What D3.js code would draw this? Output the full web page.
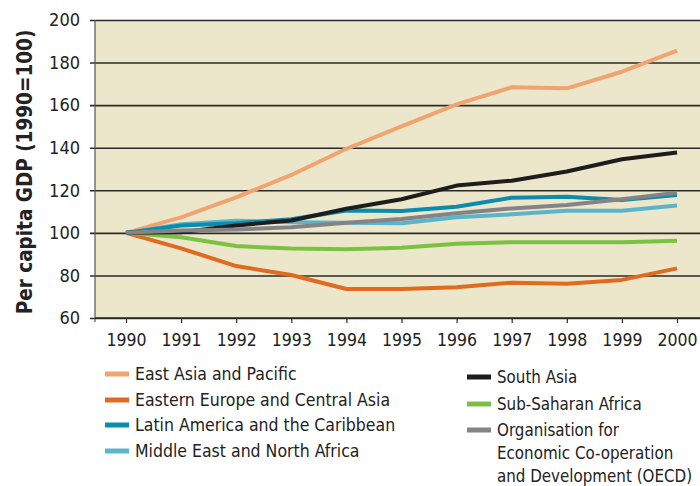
<!DOCTYPE html>
<html>
<head>
<meta charset="utf-8">
<script src="https://cdn.jsdelivr.net/npm/d3@7"></script>
<style>
  body { margin: 0; background: #fff; }
  text { font-family: "DejaVu Sans Condensed", "DejaVu Sans", sans-serif; fill: #222; }
</style>
</head>
<body>
<svg id="chart" width="700" height="486"></svg>
<script>
// data
var years = [1990, 1991, 1992, 1993, 1994, 1995, 1996, 1997, 1998, 1999, 2000];
var yTicks = [60, 80, 100, 120, 140, 160, 180, 200];

var eastAsia    = [100, 107.3, 116.7, 127.2, 139.5, 150, 160.4, 168.4, 167.9, 175.7, 185.6];
var easternEur  = [100, 92.7, 84.4, 80.2, 73.6, 73.6, 74.4, 76.6, 76.1, 77.9, 83.3];
var latinAm     = [100, 103.5, 104.5, 106.4, 110.5, 110.3, 112.3, 116.5, 117, 115.4, 117.8];
var middleEast  = [100, 104, 105.7, 105, 104.8, 104.5, 107.3, 108.7, 110.4, 110.4, 112.8];
var southAsia   = [100, 100.3, 103.5, 105.8, 111.3, 115.8, 122.2, 124.5, 128.8, 134.6, 137.8];
var subSaharan  = [100, 97.9, 93.8, 92.6, 92.3, 93, 94.9, 95.6, 95.6, 95.6, 96.3];
var oecd        = [100, 101.1, 101.6, 102.6, 104.8, 106.5, 109.2, 111.5, 113.1, 115.8, 118.9];

var seriesNames = [
    "East Asia and Pacific",
    "Eastern Europe and Central Asia",
    "Latin America and the Caribbean",
    "Middle East and North Africa",
    "South Asia",
    "Sub-Saharan Africa",
    "Organisation for Economic Co-operation and Development (OECD)"
];
var seriesValues = [eastAsia, easternEur, latinAm, middleEast, southAsia, subSaharan, oecd];
var seriesColors = ["#f0a470", "#e06a1e", "#0a8cae", "#5ab5cc", "#1e1c1c", "#7cc242", "#848486"];

var svg = d3.select("#chart");

// plot area (note: "top" is taken by window.top, so plotTop)
var plotLeft = 95, plotTop = 20, plotBottom = 318, plotRight = 700;

var x = d3.scaleLinear().domain([1990, 2000]).range([126, 677]);
var y = d3.scaleLinear().domain([60, 200]).range([plotBottom, plotTop]);

svg.append("rect")
    .attr("x", plotLeft).attr("y", plotTop)
    .attr("width", plotRight - plotLeft).attr("height", plotBottom - plotTop)
    .attr("fill", "#ece7ca");

// gridlines + y axis ticks
var yAxis = d3.axisLeft(y).tickValues(yTicks).tickSize(5).tickPadding(10);
var gy = svg.append("g").attr("transform", "translate(" + plotLeft + ",0)").call(yAxis);
gy.select(".domain").remove();
gy.selectAll(".tick line")
    .attr("x1", -5)
    .attr("x2", plotRight - plotLeft)
    .attr("stroke", "#2a2a2a")
    .attr("stroke-width", 1.6);
gy.selectAll(".tick text")
    .style("font-size", "18px")
    .style("font-family", "'DejaVu Sans Condensed', sans-serif")
    .attr("fill", "#222");

// left axis line
svg.append("line")
    .attr("x1", plotLeft).attr("x2", plotLeft)
    .attr("y1", plotTop).attr("y2", plotBottom + 4)
    .attr("stroke", "#555").attr("stroke-width", 1.2);

// x axis
var xAxis = d3.axisBottom(x).tickValues(years).tickFormat(d3.format("d")).tickSize(5).tickPadding(11);
var gx = svg.append("g").attr("transform", "translate(0," + plotBottom + ")").call(xAxis);
gx.select(".domain").remove();
gx.selectAll(".tick line").attr("stroke", "#2a2a2a").attr("stroke-width", 1.2);
gx.selectAll(".tick text")
    .style("font-size", "17.5px")
    .style("font-family", "'DejaVu Sans Condensed', sans-serif")
    .attr("fill", "#222");
svg.append("line")
    .attr("x1", plotLeft).attr("x2", plotRight)
    .attr("y1", plotBottom).attr("y2", plotBottom)
    .attr("stroke", "#2a2a2a").attr("stroke-width", 1.6);

// y axis label
svg.append("text")
    .attr("transform", "translate(32," + ((plotTop + plotBottom) / 2 + 3) + ") rotate(-90)")
    .attr("text-anchor", "middle")
    .style("font-size", "20.5px")
    .style("font-weight", "bold")
    .text("Per capita GDP (1990=100)");

// lines, drawn in an order that keeps the overlaps like the picture
var line = d3.line()
    .x(function (d, i) { return x(years[i]); })
    .y(function (d) { return y(d); });

var drawOrder = [0, 1, 5, 3, 2, 4, 6];
drawOrder.forEach(function (k) {
    svg.append("path")
        .datum(seriesValues[k])
        .attr("d", line)
        .attr("fill", "none")
        .attr("stroke", seriesColors[k])
        .attr("stroke-width", 4)
        .attr("stroke-linejoin", "round");
});

// legend
var legendItems = [
    {k: 0, x: 105, y: 374, lines: [seriesNames[0]]},
    {k: 1, x: 105, y: 400, lines: [seriesNames[1]]},
    {k: 2, x: 105, y: 425, lines: [seriesNames[2]]},
    {k: 3, x: 105, y: 451, lines: [seriesNames[3]]},
    {k: 4, x: 467, y: 377, lines: ["South Asia"]},
    {k: 5, x: 467, y: 404, lines: ["Sub-Saharan Africa"]},
    {k: 6, x: 467, y: 430, lines: ["Organisation for", "Economic Co-operation", "and Development (OECD)"]}
];
var lg = svg.append("g");
legendItems.forEach(function (d) {
    lg.append("line")
        .attr("x1", d.x).attr("x2", d.x + 24)
        .attr("y1", d.y).attr("y2", d.y)
        .attr("stroke", seriesColors[d.k])
        .attr("stroke-width", 5);
    var t = lg.append("text")
        .attr("x", d.x + 30)
        .attr("y", d.y + 5.5)
        .style("font-size", d.x > 300 ? "16.8px" : "17.5px");
    d.lines.forEach(function (s, i) {
        t.append("tspan").attr("x", d.x + 30).attr("dy", i === 0 ? 0 : 23.3).text(s);
    });
});
</script>
</body>
</html>
